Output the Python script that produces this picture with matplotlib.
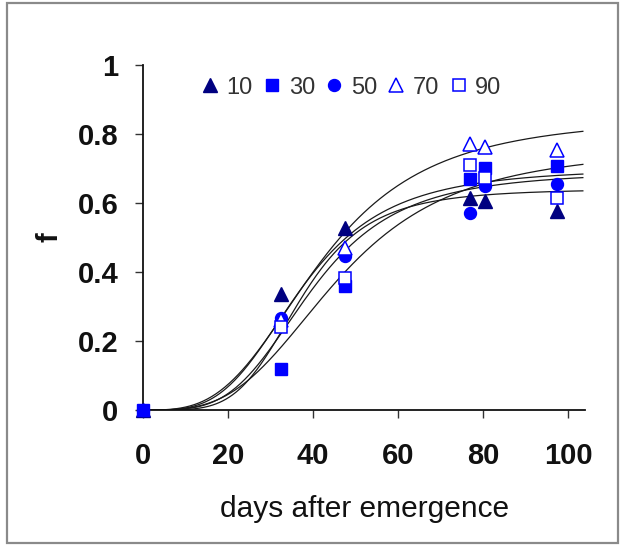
import numpy as np
import matplotlib
matplotlib.use("Agg")
import matplotlib.pyplot as plt
from matplotlib.patches import Rectangle

# ---- data ----
days = [0, 32.5, 47.5, 77, 80.5, 97.5]
labels = ["10", "30", "50", "70", "90"]
nan = float("nan")
f_10 = [0, 0.336, 0.527, 0.615, 0.605, 0.576]
f_30 = [0, 0.120, 0.360, 0.670, 0.700, 0.706]
f_50 = [0, 0.267, 0.445, 0.570, 0.648, 0.653]
f_70 = [nan, 0.262, 0.470, 0.769, 0.760, 0.754]
f_90 = [nan, 0.240, 0.383, 0.710, 0.673, 0.615]

# fitted curves (Hill type): asymptote, half-time, steepness
curve_max = [0.64, 0.76, 0.69, 0.85, 0.70]
curve_half = [37.0, 46.0, 39.5, 41.5, 37.1]
curve_steep = [4.6, 3.3, 3.8, 3.2, 3.6]

x_ticks = [0, 20, 40, 60, 80, 100]
y_ticks = [0, 0.2, 0.4, 0.6, 0.8, 1]
y_ticklabels = ["0", "0.2", "0.4", "0.6", "0.8", "1"]

navy = "#000080"
blue = "#0000FF"

fig = plt.figure(figsize=(6.21, 5.46), dpi=100)
ax = fig.add_axes([0.2309, 0.249, 0.7111, 0.6328])

# border around the figure
fig.patches.append(Rectangle((7/621, 3/546), 611/621, 540/546, transform=fig.transFigure,
                             fill=False, edgecolor="#8a8a8a", lw=1.6))

xs = np.linspace(0, 103.5, 400)
for A, k, n in zip(curve_max, curve_half, curve_steep):
    ax.plot(xs, A * xs**n / (k**n + xs**n), color="#1a1a1a", lw=0.9, zorder=2)

series = [
    (f_10, dict(marker="^", ms=10, color=navy, mfc=navy, mec=navy)),
    (f_30, dict(marker="s", ms=9.2, color=blue, mfc=blue, mec=blue)),
    (f_50, dict(marker="o", ms=8.6, color=blue, mfc=blue, mec=blue)),
    (f_70, dict(marker="^", ms=9.5, color=blue, mfc="white", mec=blue, mew=1.1)),
    (f_90, dict(marker="s", ms=8.2, color=blue, mfc="white", mec=blue, mew=1.1)),
]
handles = []
for (vals, st), lab in zip(series, labels):
    h, = ax.plot(days, vals, ls="none", label=lab, clip_on=False, zorder=3, **st)
    handles.append(h)

ax.set_xlim(0, 104)
ax.set_ylim(0, 1)
ax.set_xticks(x_ticks)
ax.set_yticks(y_ticks)
ax.set_yticklabels(y_ticklabels)
for s in ["top", "right"]:
    ax.spines[s].set_visible(False)
for s in ["left", "bottom"]:
    ax.spines[s].set_linewidth(1.3)
    ax.spines[s].set_color("#111111")

ax.tick_params(axis="both", direction="out", length=6, width=1.0, color="#333333")
ax.tick_params(axis="x", pad=17)
ax.tick_params(axis="y", pad=12)
for t in ax.get_xticklabels() + ax.get_yticklabels():
    t.set_fontfamily("Liberation Sans")
    t.set_fontweight("bold")
    t.set_fontsize(21)
    t.set_color("#111111")

ax.set_xlabel("days after emergence", family="Liberation Sans", size=21.5,
              color="#111111", labelpad=18)
ax.set_ylabel("f", family="Liberation Sans", weight="bold", size=21,
              color="#111111", labelpad=10)

leg = ax.legend(handles=handles, loc="upper left", bbox_to_anchor=(0.124, 0.965),
                ncol=5, frameon=False, borderpad=0, borderaxespad=0,
                handlelength=1.0, handletextpad=0.2, columnspacing=0.32,
                prop=dict(family=["Liberation Sans Narrow", "Liberation Sans"], size=17))
for t in leg.get_texts():
    t.set_color("#333333")

fig.savefig("out.png", dpi=100)
